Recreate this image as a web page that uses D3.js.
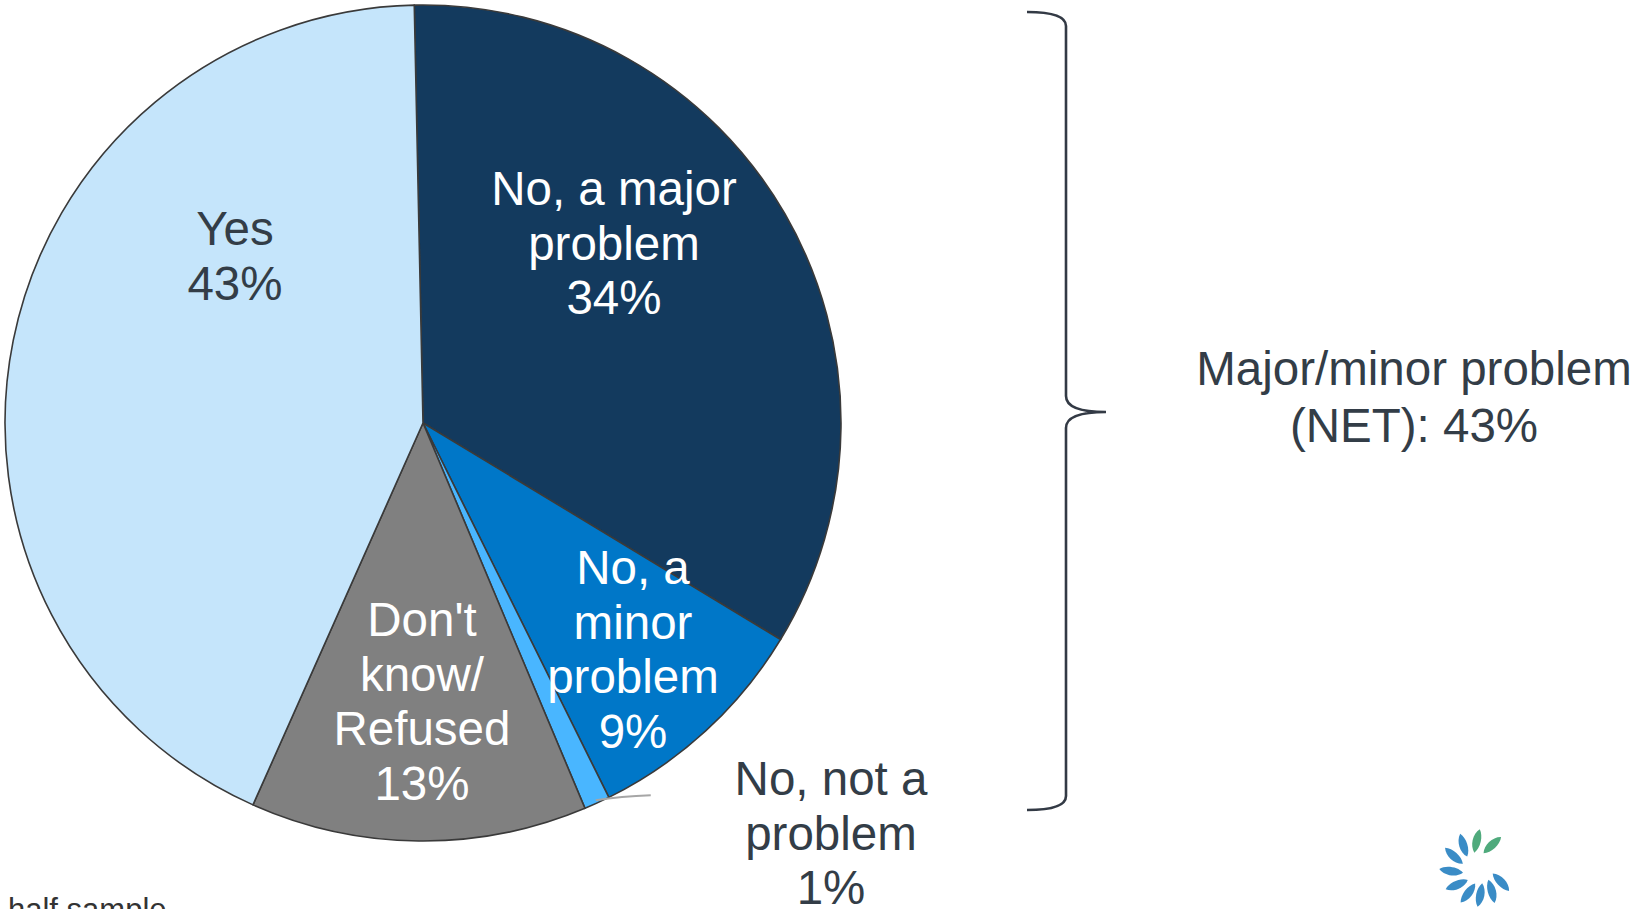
<!DOCTYPE html>
<html>
<head>
<meta charset="utf-8">
<script src="https://cdn.jsdelivr.net/npm/d3@7"></script>
<style>
  html, body { margin: 0; padding: 0; background: #ffffff; overflow: hidden; }
  svg { display: block; }
  text { font-family: "Liberation Sans", Arial, sans-serif; }
</style>
</head>
<body>
<svg id="chart" width="1637" height="909"></svg>
<script>
// ---- data ----
const categories = ["No, a major problem", "No, a minor problem", "No, not a problem", "Don't know/Refused", "Yes"];
const values = [34, 9, 1, 13, 43];
const percentLabels = ["34%", "9%", "1%", "13%", "43%"];
const labelLines = [
  ["No, a major", "problem"],
  ["No, a", "minor", "problem"],
  ["No, not a", "problem"],
  ["Don't", "know/", "Refused"],
  ["Yes"]
];
const colors = ["#133A5E", "#0077C8", "#49B6FF", "#808080", "#C5E5FB"];
const labelColors = ["#ffffff", "#ffffff", "#333D47", "#ffffff", "#333D47"];
const netLines = ["Major/minor problem", "(NET): 43%"];
const footnote = "half sample";

// ---- layout ----
const W = 1637, H = 909;
const cx = 423, cy = 423, R = 418;
const startDeg = -1.2;
const fontSize = 47.5, lineGap = 54.5;
// label anchor (center x, first baseline)
const labelAnchors = [[614, 205], [633, 584], [831, 795], [422, 636], [235, 245]];

const svg = d3.select("#chart");

const pie = d3.pie().sort(null).value(d => d)
  .startAngle(startDeg * Math.PI / 180)
  .endAngle(startDeg * Math.PI / 180 + 2 * Math.PI);
const arcs = pie(values);
const arc = d3.arc().innerRadius(0).outerRadius(R);

const g = svg.append("g").attr("transform", `translate(${cx},${cy})`);
g.selectAll("path.slice").data(arcs).enter().append("path")
  .attr("class", "slice")
  .attr("d", arc)
  .attr("fill", (d, i) => colors[i])
  .attr("stroke", "#3a3a3a")
  .attr("stroke-width", 1.6)
  .attr("stroke-linejoin", "round");

// leader line for the tiny slice
const tiny = arcs[2];
const tinyMid = (tiny.startAngle + tiny.endAngle) / 2;
const p0 = [cx + Math.sin(tinyMid) * (R - 3), cy - Math.cos(tinyMid) * (R - 3)];
svg.append("path")
  .attr("d", `M${p0[0]},${p0[1]} Q${p0[0] + 25},${p0[1] - 4} ${p0[0] + 55},${p0[1] - 5}`)
  .attr("fill", "none")
  .attr("stroke", "#A6A6A6")
  .attr("stroke-width", 2);

// slice labels
labelLines.forEach((lines, i) => {
  const all = lines.concat([percentLabels[i]]);
  const t = svg.append("text")
    .attr("x", labelAnchors[i][0])
    .attr("y", labelAnchors[i][1])
    .attr("text-anchor", "middle")
    .attr("font-size", fontSize)
    .attr("fill", labelColors[i]);
  all.forEach((ln, j) => {
    t.append("tspan")
      .attr("x", labelAnchors[i][0])
      .attr("dy", j === 0 ? 0 : lineGap)
      .text(ln);
  });
});

// brace
const bx = 1066, bTop = 12, bBot = 810, bMid = 412, lx = 1027, tip = 1106;
svg.append("path")
  .attr("d", `M${lx},${bTop} Q${bx},${bTop} ${bx},${bTop + 14} L${bx},${bMid - 16} Q${bx},${bMid} ${tip},${bMid} Q${bx},${bMid} ${bx},${bMid + 16} L${bx},${bBot - 14} Q${bx},${bBot} ${lx},${bBot}`)
  .attr("fill", "none")
  .attr("stroke", "#333A45")
  .attr("stroke-width", 2.6);

// NET label
const nt = svg.append("text")
  .attr("x", 1414).attr("y", 385)
  .attr("text-anchor", "middle")
  .attr("font-size", fontSize)
  .attr("fill", "#333D47");
netLines.forEach((ln, j) => {
  nt.append("tspan").attr("x", 1414).attr("dy", j === 0 ? 0 : 57).text(ln);
});

// footnote (partially cut off, as in the source)
svg.append("text")
  .attr("x", 8).attr("y", 920)
  .attr("font-size", 31)
  .attr("fill", "#333333")
  .text(footnote);

// logo (decorative leaf pinwheel)
const logoLeaves = [
  { a: -92, c: "#4FAA7C" }, { a: -58, c: "#4FAA7C" },
  { a: -122, c: "#3A8CC6" }, { a: -153, c: "#3A8CC6" }, { a: 174, c: "#3A8CC6" },
  { a: 142, c: "#3A8CC6" }, { a: 112, c: "#3A8CC6" }, { a: 86, c: "#3A8CC6" },
  { a: 60, c: "#3A8CC6" }, { a: 32, c: "#3A8CC6" }
];
const lg = svg.append("g").attr("transform", "translate(1478,868)");
logoLeaves.forEach(l => {
  const rad = l.a * Math.PI / 180;
  const x = Math.cos(rad) * 27, y = Math.sin(rad) * 27;
  lg.append("path")
    .attr("d", "M-12,0 C-6,-6 6,-6 12,0 C6,5 -6,5 -12,0 Z")
    .attr("fill", l.c)
    .attr("transform", `translate(${x},${y}) rotate(${l.a + 15})`);
});
</script>
</body>
</html>
